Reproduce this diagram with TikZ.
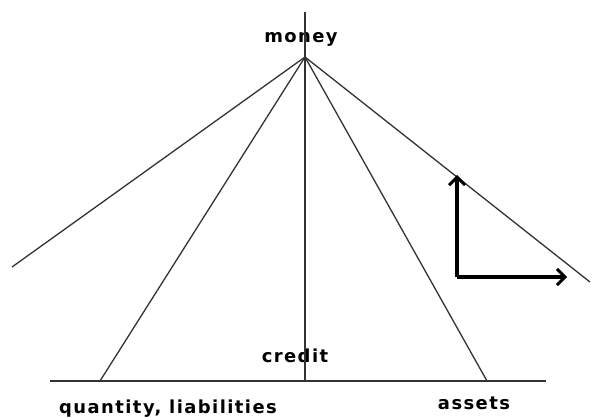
\documentclass[tikz,border=0pt]{standalone}
\usepackage{fontspec}
\setmainfont{DejaVu Sans}
\usetikzlibrary{arrows.meta, positioning}

\begin{document}
\begin{tikzpicture}[
  x=1bp, y=-1bp,
  label/.style={anchor=base, inner sep=0pt, font=\fontsize{18}{20}\selectfont\bfseries\addfontfeature{LetterSpace=8}},
  ray/.style={draw, line width=1.3bp, black!80},
  axis/.style={draw, line width=2bp, black!80},
  turn/.style={draw, line width=4bp, -{Straight Barb[length=8bp, width=16bp, line width=3bp]}}
]
\useasboundingbox (0,0) rectangle (605,417);

% points of the fan
\coordinate (apex) at (305,57);
\coordinate (top) at (305,12);
\coordinate (foot) at (305,381);
\coordinate (baseL) at (50,381);
\coordinate (baseR) at (546,381);
\coordinate (outL) at (12,267);
\coordinate (outR) at (590,282);
\coordinate (inL) at (100,381);
\coordinate (inR) at (487,381);

\node [label] (money) at (301,42) {money};
\node [label] (credit) at (295,362) {credit};
\node [label] (quantity) at (168,413) {quantity, liabilities};
\node [label] (assets) at (474,409) {assets};

\path [axis] (top) -- (foot);
\path [axis] (baseL) -- (baseR);
\path [ray] (apex) -- (outL);
\path [ray] (apex) -- (outR);
\path [ray] (apex) -- (inL);
\path [ray] (apex) -- (inR);

% the two arrows
\coordinate (corner) at (457,277);
\coordinate (up) at (457,175);
\coordinate (right) at (567,277);
\path [turn] (corner) -- (up);
\path [turn] (corner) -- (right);

\end{tikzpicture}
\end{document}
